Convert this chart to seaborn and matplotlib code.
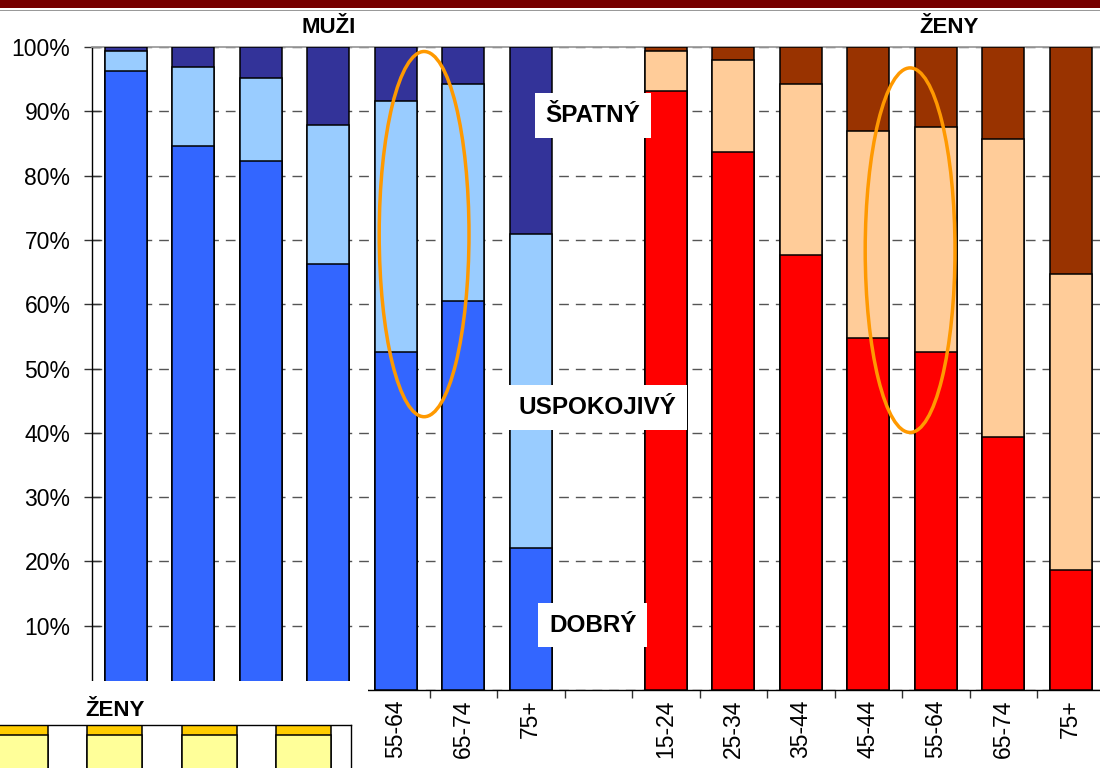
import numpy as np
import pandas as pd
import matplotlib.pyplot as plt
import seaborn as sns
from matplotlib.patches import Ellipse, Rectangle

# values (percent)
vekove_skupiny = ["15-24", "25-34", "35-44", "45-54", "55-64", "65-74", "75+"]
zeny_popisky = ["15-24", "25-34", "35-44", "45-44", "55-64", "65-74", "75+"]
muzi_dobry = [96.3, 84.6, 82.3, 66.3, 52.6, 60.5, 22.1]
muzi_uspokojivy = [3.1, 12.3, 12.9, 21.6, 39.0, 33.7, 48.8]
muzi_spatny = [0.6, 3.1, 4.8, 12.1, 8.4, 5.8, 29.1]
zeny_dobry = [93.2, 83.7, 67.7, 54.7, 52.6, 39.3, 18.7]
zeny_uspokojivy = [6.2, 14.3, 26.5, 32.2, 35.0, 46.4, 46.0]
zeny_spatny = [0.6, 2.0, 5.8, 13.1, 12.4, 14.3, 35.3]

# second (covered) chart in the bottom left corner
vlozeny_svetly = [98.4, 98.3, 98.4, 98.4]
vlozeny_tmavy = [1.6, 1.7, 1.6, 1.6]

sns.set_theme(style="white")
plt.rcParams['font.family'] = ['Liberation Sans', 'DejaVu Sans']
plt.rcParams['text.color'] = 'black'
plt.rcParams['xtick.color'] = 'black'
plt.rcParams['ytick.color'] = 'black'

rows = []
for i in range(7):
    rows.append({"klic": "M%d" % i, "pohlavi": "M", "dobry": muzi_dobry[i],
                 "usp": muzi_uspokojivy[i], "spatny": muzi_spatny[i]})
for i in range(7):
    rows.append({"klic": "Z%d" % i, "pohlavi": "Z", "dobry": zeny_dobry[i],
                 "usp": zeny_uspokojivy[i], "spatny": zeny_spatny[i]})
df = pd.DataFrame(rows)
df["do_usp"] = df["dobry"] + df["usp"]
df["celkem"] = df["do_usp"] + df["spatny"]

order = ["M%d" % i for i in range(7)] + ["mezera"] + ["Z%d" % i for i in range(7)]

fig = plt.figure(figsize=(11, 7.68), dpi=100)
ax = fig.add_axes([92/1100, 78/768, 1012.5/1100, 643/768])

vrstvy = [("celkem", {"M": "#333399", "Z": "#993300"}),
          ("do_usp", {"M": "#99CCFF", "Z": "#FFCC99"}),
          ("dobry", {"M": "#3366FF", "Z": "#FF0000"})]
for col, pal in vrstvy:
    sns.barplot(data=df, x="klic", y=col, hue="pohlavi", order=order, palette=pal,
                dodge=False, width=0.62, edgecolor="black", linewidth=1.1, saturation=1,
                errorbar=None, legend=False, ax=ax, zorder=3)

ax.set_xlim(-0.5, 14.5)
ax.set_ylim(0, 100)
ax.set_xlabel("")
ax.set_ylabel("")
ax.set_yticks(range(0, 101, 10))
ax.set_yticklabels(["%d%%" % v for v in range(0, 101, 10)], fontsize=16.5)
# the first four male labels sit under the overlapping chart
popisky = [""] * 4 + vekove_skupiny[4:] + [""] + zeny_popisky
ax.set_xticks(range(15))
ax.set_xticklabels(popisky, rotation=90, fontsize=16.5, va="top")
ax.set_xticks(np.arange(0.5, 14.5, 1), minor=True)
ax.tick_params(axis="x", which="major", length=0, pad=7)
ax.tick_params(axis="x", which="minor", length=6, width=1, color="#333333", direction="out", bottom=True)
ax.tick_params(axis="y", which="major", length=11, width=1, color="#333333", direction="inout", left=True, pad=10)
ax.yaxis.grid(True, linestyle=(0, (7, 5)), color="#555555", linewidth=1)
ax.set_axisbelow(True)
for s in ["left", "bottom"]:
    ax.spines[s].set_color("black")
    ax.spines[s].set_linewidth(1)
ax.spines["top"].set_color("#999999")
ax.spines["right"].set_visible(False)

ax.text(3.0, 103, "MUŽI", fontsize=16, fontweight="bold", ha="center", va="center")
ax.text(12.2, 103, "ŽENY", fontsize=16, fontweight="bold", ha="center", va="center")

box = dict(boxstyle="square,pad=0.45", facecolor="white", edgecolor="none")
ax.text(6.92, 89.3, "ŠPATNÝ", fontsize=17.5, fontweight="bold", ha="center", va="center", bbox=box, zorder=6)
ax.text(6.98, 44.0, "USPOKOJIVÝ", fontsize=17.5, fontweight="bold", ha="center", va="center", bbox=box, zorder=6)
ax.text(6.92, 10.1, "DOBRÝ", fontsize=17.5, fontweight="bold", ha="center", va="center", bbox=box, zorder=6)

ax.add_patch(Ellipse((4.42, 70.9), 1.33, 56.8, fill=False, edgecolor="#FF9900", linewidth=2.5, zorder=7))
ax.add_patch(Ellipse((11.62, 68.4), 1.33, 56.7, fill=False, edgecolor="#FF9900", linewidth=2.5, zorder=7))

# top band of the slide
fig.patches.append(Rectangle((0, 1 - 8/768), 1, 8/768, transform=fig.transFigure,
                             facecolor="#770000", edgecolor="none", zorder=5))
fig.patches.append(Rectangle((0, 1 - 11/768), 1, 1.5/768, transform=fig.transFigure,
                             facecolor="#999999", edgecolor="none", zorder=5))

# white area of the overlapping chart
fig.patches.append(Rectangle((0, 0), 368/1100, 87/768, transform=fig.transFigure,
                             facecolor="white", edgecolor="none", zorder=5))

ax2 = fig.add_axes([-27/1100, -557/768, 378/1100, 600/768], zorder=6)
df2 = pd.DataFrame({"k": ["a", "b", "c", "d"], "svetly": vlozeny_svetly,
                    "celkem": np.array(vlozeny_svetly) + np.array(vlozeny_tmavy)})
sns.barplot(data=df2, x="k", y="celkem", color="#FFCC00", width=0.58, edgecolor="black",
            linewidth=1.1, errorbar=None, ax=ax2, saturation=1)
sns.barplot(data=df2, x="k", y="svetly", color="#FFFF99", width=0.58, edgecolor="black",
            linewidth=1.1, errorbar=None, ax=ax2, saturation=1)
ax2.set_ylim(0, 100)
ax2.set_xlim(-0.5, 3.5)
ax2.set_xticks([])
ax2.set_yticks([])
ax2.set_xlabel("")
ax2.set_ylabel("")
ax2.set_facecolor("white")
for s in ax2.spines.values():
    s.set_color("black")
    s.set_linewidth(1)
fig.text(115/1100, 1 - 710/768, "ŽENY", fontsize=16, fontweight="bold", ha="center", va="center", zorder=8)

fig.savefig("out.png", dpi=100)
